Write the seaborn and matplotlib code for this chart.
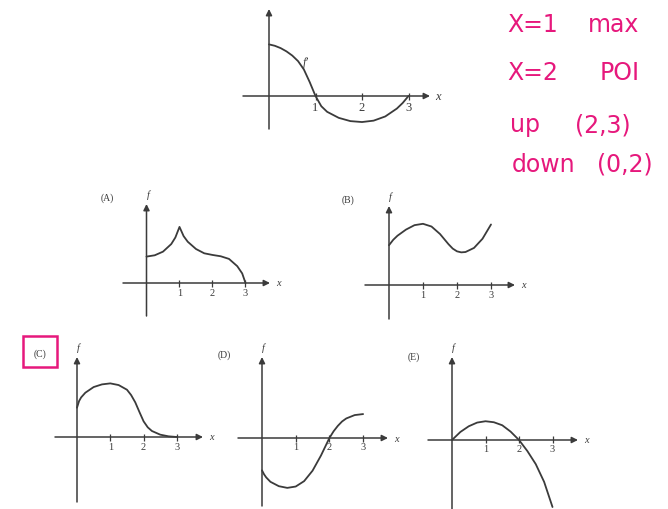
import matplotlib
matplotlib.use("Agg")
import matplotlib.pyplot as plt
from matplotlib.patches import Rectangle
import seaborn as sns

sns.set_style("white")
plt.rcParams["font.family"] = ["Liberation Serif", "DejaVu Serif"]

# ---- curve data (x in units along the horizontal axis, y in the same units) ----
FPRIME_X = [0, 0.125, 0.25, 0.375, 0.5, 0.625, 0.75, 0.875, 1, 1.125, 1.25, 1.5,
            1.75, 2, 2.25, 2.5, 2.75, 2.875, 3]
FPRIME_Y = [1.11, 1.08, 1.03, 0.96, 0.87, 0.75, 0.57, 0.30, 0.0, -0.22, -0.34, -0.47,
            -0.54, -0.56, -0.53, -0.44, -0.27, -0.15, 0.0]

A_X = [0, 0.25, 0.5, 0.75, 0.875, 1, 1.125, 1.25, 1.5, 1.75, 2, 2.25, 2.5, 2.75, 2.9, 3]
A_Y = [0.80, 0.84, 0.95, 1.18, 1.38, 1.70, 1.42, 1.25, 1.03, 0.90, 0.85, 0.81, 0.73,
       0.51, 0.29, 0.0]

B_X = [0, 0.125, 0.25, 0.5, 0.75, 1, 1.25, 1.5, 1.75, 1.875, 2, 2.125, 2.25, 2.5,
       2.75, 3]
B_Y = [1.17, 1.33, 1.45, 1.63, 1.76, 1.80, 1.72, 1.50, 1.20, 1.07, 0.99, 0.96, 0.97,
       1.09, 1.36, 1.78]

C_X = [0, 0.0625, 0.125, 0.25, 0.5, 0.75, 1, 1.25, 1.5, 1.625, 1.75, 1.875, 2, 2.125,
       2.25, 2.5, 2.75, 3]
C_Y = [0.88, 1.08, 1.19, 1.33, 1.50, 1.58, 1.61, 1.56, 1.42, 1.26, 1.04, 0.75, 0.47,
       0.29, 0.18, 0.07, 0.02, 0.0]

D_X = [0, 0.0625, 0.125, 0.25, 0.5, 0.75, 1, 1.25, 1.5, 1.75, 1.875, 2, 2.125, 2.25,
       2.375, 2.5, 2.75, 3]
D_Y = [-0.96, -1.08, -1.17, -1.30, -1.43, -1.48, -1.44, -1.28, -0.97, -0.52, -0.26,
       0.0, 0.20, 0.36, 0.49, 0.58, 0.68, 0.71]

E_X = [0, 0.25, 0.5, 0.75, 1, 1.25, 1.5, 1.75, 2, 2.25, 2.5, 2.75, 3]
E_Y = [0.0, 0.24, 0.41, 0.52, 0.56, 0.53, 0.44, 0.25, 0.0, -0.33, -0.72, -1.25, -2.0]

TICKS = [1, 2, 3]
TICK_LABELS = ["1", "2", "3"]
PANEL_NAMES = ["(A)", "(B)", "(C)", "(D)", "(E)"]
NOTES_LEFT = ["X=1", "X=2", "up", "down"]
NOTES_RIGHT = ["max", "POI", "(2,3)", "(0,2)"]

# ---- layout ----
W, H = 668, 510
INK = "#3b3b3b"
PINK = "#e6187c"

fig = plt.figure(figsize=(W / 100, H / 100), dpi=100)
fig.patch.set_facecolor("white")


def make_panel(ox, oy, u, xaxis_px, yaxis_px, xs, ys, ylabel, tick_fs, lab_off):
    x0p, x1p = xaxis_px
    ybot, ytop = yaxis_px
    xa0, xa1 = (x0p - ox) / u, (x1p - ox) / u
    yb, yt = (oy - ybot) / u, (oy - ytop) / u
    xmin, xmax = xa0 - 0.4, xa1 + 0.6
    ymin, ymax = yb - 0.3, yt + 0.6
    left, right = ox + xmin * u, ox + xmax * u
    top, bottom = oy - ymax * u, oy - ymin * u
    ax = fig.add_axes([left / W, 1 - bottom / H, (right - left) / W, (bottom - top) / H])
    ax.set_xlim(xmin, xmax)
    ax.set_ylim(ymin, ymax)
    ax.axis("off")
    ax.patch.set_alpha(0)

    arrow = dict(arrowstyle="-|>", color=INK, lw=1.1, mutation_scale=9,
                 shrinkA=0, shrinkB=0)
    ax.annotate("", xy=(xa1, 0), xytext=(xa0, 0), arrowprops=arrow)
    ax.annotate("", xy=(0, yt), xytext=(0, yb), arrowprops=arrow)

    h = 3.5 / u
    ax.vlines(TICKS, -h, h, color=INK, lw=0.9)
    for t, lab in zip(TICKS, TICK_LABELS):
        ax.text(t, -lab_off / u, lab, ha="center", va="center",
                fontsize=tick_fs, color=INK)
    ax.text(xa1 + 8 / u, 0, "x", ha="center", va="center",
            fontsize=tick_fs, style="italic", color=INK)
    if ylabel:
        ax.text(0.05, yt + 10 / u, ylabel, ha="center", va="center",
                fontsize=tick_fs, style="italic", color=INK)

    sns.lineplot(x=xs, y=ys, ax=ax, color=INK, lw=1.3, legend=False,
                 estimator=None, sort=False)
    return ax


top_ax = make_panel(269, 97, 46.5, (243, 430), (130, 10), FPRIME_X, FPRIME_Y,
                    None, 9, 11)
top_ax.text(0.8, 0.74, "f\u2032", ha="center", va="center", fontsize=8.5,
            style="italic", color=INK)

make_panel(146.5, 284, 33, (123, 270), (317, 205), A_X, A_Y, "f", 7.5, 9)
make_panel(389, 286, 34, (365, 515), (320, 207), B_X, B_Y, "f", 7.5, 9)
make_panel(77, 438, 33.3, (55, 203), (503, 358), C_X, C_Y, "f", 7.5, 9)
make_panel(262, 439, 33.7, (238, 388), (507, 358), D_X, D_Y, "f", 7.5, 9)
make_panel(452, 441, 33.5, (428, 578), (512, 358), E_X, E_Y, "f", 7.5, 9)

# panel letters
for name, (px, py) in zip(PANEL_NAMES, [(107, 198), (348, 200), (40, 354),
                                        (224, 355), (414, 357)]):
    fig.text(px / W, 1 - py / H, name, ha="center", va="center",
             fontsize=7, color=INK)

# box around the chosen answer
fig.add_artist(Rectangle((23 / W, 1 - 368 / H), 34 / W, 31 / H,
                         transform=fig.transFigure, fill=False,
                         edgecolor=PINK, lw=1.8))

# handwritten notes
note_y = [25, 73, 125, 165]
left_x = [507, 507, 510, 512]
right_x = [588, 600, 575, 597]
for y, xl, xr, a, b in zip(note_y, left_x, right_x, NOTES_LEFT, NOTES_RIGHT):
    fig.text(xl / W, 1 - y / H, a, ha="left", va="center", fontsize=17,
             color=PINK, family="DejaVu Sans")
    fig.text(xr / W, 1 - y / H, b, ha="left", va="center", fontsize=17,
             color=PINK, family="DejaVu Sans")

fig.savefig("out.png", dpi=100, facecolor="white")
